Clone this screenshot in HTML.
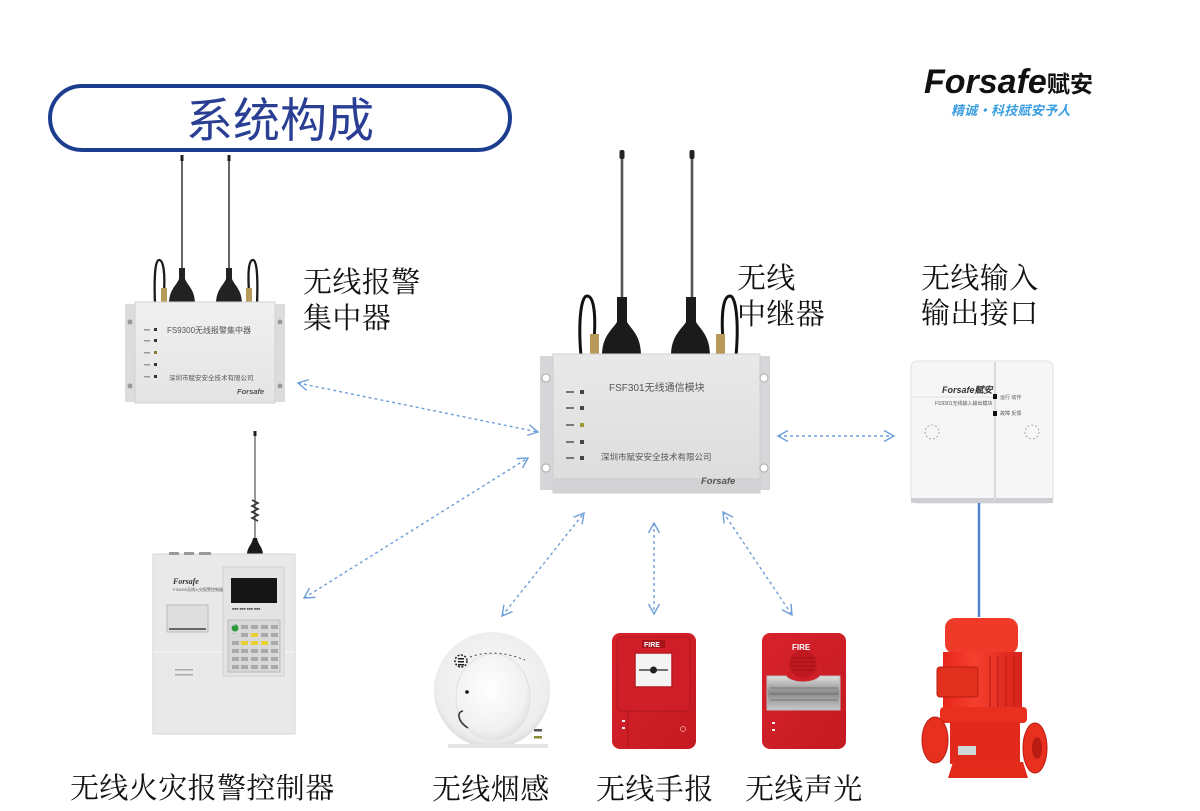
<!DOCTYPE html>
<html><head><meta charset="utf-8">
<style>
html,body{margin:0;padding:0;background:#fff;}
svg{display:block;}
.lbl{font-family:"Liberation Serif","Noto Serif CJK SC",serif;font-size:29px;fill:#111;letter-spacing:0.4px;}
.sm{font-family:"Liberation Sans","Noto Sans CJK SC",sans-serif;fill:#555;}
</style></head>
<body>
<svg width="1200" height="811" viewBox="0 0 1200 811" xmlns="http://www.w3.org/2000/svg">
<defs>
  <marker id="ah" markerUnits="userSpaceOnUse" markerWidth="14" markerHeight="14" refX="11" refY="6.5" orient="auto-start-reverse">
    <path d="M1,1 L11,6.5 L1,12" fill="none" stroke="#6f9fd8" stroke-width="1.4"/>
  </marker>
  <linearGradient id="gFace" x1="0" y1="0" x2="0" y2="1">
    <stop offset="0" stop-color="#f0f0f0"/><stop offset="1" stop-color="#e4e4e4"/>
  </linearGradient>
  <linearGradient id="gRep" x1="0" y1="0" x2="0" y2="1">
    <stop offset="0" stop-color="#e9e9ea"/><stop offset="1" stop-color="#dcdcde"/>
  </linearGradient>
  <radialGradient id="gDome" cx="0.45" cy="0.4" r="0.7">
    <stop offset="0" stop-color="#ffffff"/><stop offset="0.7" stop-color="#f1f1f1"/><stop offset="1" stop-color="#d6d6d6"/>
  </radialGradient>
  <radialGradient id="gBase" cx="0.5" cy="0.45" r="0.6">
    <stop offset="0" stop-color="#fafafa"/><stop offset="0.8" stop-color="#ededed"/><stop offset="1" stop-color="#d0d0d0"/>
  </radialGradient>
  <linearGradient id="gRed" x1="0" y1="0" x2="1" y2="1">
    <stop offset="0" stop-color="#d8222b"/><stop offset="1" stop-color="#c41a22"/>
  </linearGradient>
  <linearGradient id="gPump" x1="0" y1="0" x2="1" y2="0">
    <stop offset="0" stop-color="#e8261c"/><stop offset="0.4" stop-color="#f5402f"/><stop offset="1" stop-color="#d8221a"/>
  </linearGradient>
  <linearGradient id="gLens" x1="0" y1="0" x2="0" y2="1">
    <stop offset="0" stop-color="#e0e0e0"/><stop offset="0.5" stop-color="#8a8a8a"/><stop offset="1" stop-color="#c8c8c8"/>
  </linearGradient>
</defs>

<!-- Title pill -->
<rect x="50" y="86" width="460" height="64" rx="32" ry="32" fill="#fff" stroke="#1d3d8f" stroke-width="4"/>
<text x="280" y="137" text-anchor="middle" font-family="'Liberation Sans','Noto Sans CJK SC',sans-serif" font-size="47" fill="#2a3f94">系统构成</text>

<!-- Logo -->
<text x="924" y="93" font-family="'Liberation Sans',sans-serif" font-weight="bold" font-style="italic" font-size="34" fill="#111">Forsafe</text>
<text x="1047" y="92" font-family="'Noto Sans CJK SC',sans-serif" font-weight="bold" font-size="23" fill="#111">赋安</text>
<text x="951" y="115" font-family="'Noto Sans CJK SC',sans-serif" font-weight="bold" font-style="italic" font-size="13" fill="#3a9ee0" letter-spacing="0.3">精诚·科技赋安予人</text>

<!-- ============ Concentrator ============ -->
<line x1="182" y1="156" x2="182" y2="282" stroke="#666" stroke-width="2"/>
<line x1="229" y1="156" x2="229" y2="282" stroke="#666" stroke-width="2"/>
<rect x="180.5" y="155" width="3" height="6" fill="#222"/>
<rect x="227.5" y="155" width="3" height="6" fill="#222"/>
<path d="M155,304 C154,278 155,260 159,260 C164,260 165,276 164,292" fill="none" stroke="#1a1a1a" stroke-width="2.3"/>
<path d="M257,304 C258,278 257,260 253,260 C248,260 248,276 249,292" fill="none" stroke="#1a1a1a" stroke-width="2.3"/>
<rect x="161" y="288" width="6" height="14" fill="#b59a5a"/>
<rect x="246" y="288" width="6" height="14" fill="#b59a5a"/>
<path d="M169,304 C169,290 176,286 179,279 L179,268 L185,268 L185,279 C188,286 195,290 195,304 Z" fill="#222"/>
<path d="M216,304 C216,290 223,286 226,279 L226,268 L232,268 L232,279 C235,286 242,290 242,304 Z" fill="#222"/>
<rect x="125" y="304" width="160" height="98" fill="#dcdcdc"/>
<rect x="135" y="302" width="140" height="101" fill="url(#gFace)" stroke="#d0d0d0" stroke-width="1"/>
<circle cx="130" cy="322" r="2.5" fill="#999"/><circle cx="130" cy="386" r="2.5" fill="#999"/>
<circle cx="280" cy="322" r="2.5" fill="#999"/><circle cx="280" cy="386" r="2.5" fill="#999"/>
<text x="167" y="333" class="sm" font-size="8">FS9300无线报警集中器</text>
<g fill="#333"><rect x="154" y="328" width="3" height="3"/><rect x="154" y="339" width="3" height="3"/><rect x="154" y="351" width="3" height="3" fill="#8a7a30"/><rect x="154" y="363" width="3" height="3"/><rect x="154" y="375" width="3" height="3"/></g>
<g fill="#999"><rect x="144" y="329" width="6" height="1.5"/><rect x="144" y="340" width="6" height="1.5"/><rect x="144" y="352" width="6" height="1.5"/><rect x="144" y="364" width="6" height="1.5"/><rect x="144" y="376" width="6" height="1.5"/></g>
<text x="169" y="380" class="sm" font-size="6.5">深圳市赋安安全技术有限公司</text>
<text x="237" y="394" class="sm" font-size="7.5" font-style="italic" font-weight="bold" fill="#333">Forsafe</text>
<text x="303" y="292" class="lbl">无线报警</text>
<text x="303" y="328" class="lbl">集中器</text>

<!-- ============ Repeater ============ -->
<line x1="622" y1="152" x2="622" y2="300" stroke="#555" stroke-width="2.6"/>
<line x1="692" y1="152" x2="692" y2="300" stroke="#555" stroke-width="2.6"/>
<rect x="619.5" y="150" width="5" height="9" rx="2" fill="#222"/>
<rect x="689.5" y="150" width="5" height="9" rx="2" fill="#222"/>
<path d="M581,356 C578,322 581,296 587,296 C594,296 596,315 594,340" fill="none" stroke="#111" stroke-width="3"/>
<path d="M736,356 C739,322 736,296 730,296 C723,296 721,315 723,340" fill="none" stroke="#111" stroke-width="3"/>
<rect x="590" y="334" width="9" height="20" fill="#b8995a"/>
<rect x="716" y="334" width="9" height="20" fill="#b8995a"/>
<path d="M602,356 C602,336 612,330 617,322 L617,297 L627,297 L627,322 C632,330 641,336 641,356 Z" fill="#1b1b1b"/>
<path d="M671,356 C671,336 681,330 686,322 L686,297 L696,297 L696,322 C701,330 710,336 710,356 Z" fill="#1b1b1b"/>
<rect x="540" y="356" width="230" height="134" fill="#d6d6d8"/>
<rect x="553" y="354" width="207" height="139" fill="url(#gRep)" stroke="#cfcfd1" stroke-width="1"/>
<rect x="553" y="478" width="207" height="15" fill="#d2d2d4"/>
<circle cx="546" cy="378" r="4" fill="#fff" stroke="#aaa"/><circle cx="546" cy="468" r="4" fill="#fff" stroke="#aaa"/>
<circle cx="764" cy="378" r="4" fill="#fff" stroke="#aaa"/><circle cx="764" cy="468" r="4" fill="#fff" stroke="#aaa"/>
<text x="609" y="391" class="sm" font-size="10" fill="#444">FSF301无线通信模块</text>
<text x="601" y="460" class="sm" font-size="8.5" fill="#444">深圳市赋安安全技术有限公司</text>
<g fill="#444"><rect x="580" y="390" width="4" height="4"/><rect x="580" y="406" width="4" height="4"/><rect x="580" y="423" width="4" height="4" fill="#9a9a30"/><rect x="580" y="440" width="4" height="4"/><rect x="580" y="456" width="4" height="4"/></g>
<g fill="#777"><rect x="566" y="391" width="8" height="2"/><rect x="566" y="407" width="8" height="2"/><rect x="566" y="424" width="8" height="2"/><rect x="566" y="441" width="8" height="2"/><rect x="566" y="457" width="8" height="2"/></g>
<text x="701" y="484" class="sm" font-size="9.5" font-style="italic" font-weight="bold" fill="#333">Forsafe</text>
<text x="737" y="288" class="lbl">无线</text>
<text x="737" y="324" class="lbl">中继器</text>

<!-- ============ IO interface ============ -->
<rect x="911" y="361" width="142" height="142" rx="6" fill="#f6f6f6" stroke="#e0e0e0"/>
<rect x="911" y="498" width="142" height="5" fill="#cfcfd3"/>
<line x1="995" y1="362" x2="995" y2="500" stroke="#dcdcdc" stroke-width="2"/>
<line x1="912" y1="397" x2="994" y2="397" stroke="#e2e2e2"/>
<text x="942" y="393" font-family="'Liberation Sans',sans-serif" font-weight="bold" font-style="italic" font-size="9" fill="#333">Forsafe赋安</text>
<text x="935" y="405" class="sm" font-size="5">FS9301无线输入输出模块</text>
<rect x="993" y="394" width="4" height="5" fill="#111"/><rect x="993" y="411" width="4" height="5" fill="#111"/>
<text x="1000" y="399" class="sm" font-size="5">运行 动作</text>
<text x="1000" y="415" class="sm" font-size="5">故障 反馈</text>
<circle cx="932" cy="432" r="7" fill="none" stroke="#aaa" stroke-dasharray="2,2"/>
<circle cx="1032" cy="432" r="7" fill="none" stroke="#aaa" stroke-dasharray="2,2"/>
<text x="921" y="288" class="lbl">无线输入</text>
<text x="921" y="323" class="lbl">输出接口</text>
<line x1="979" y1="503" x2="979" y2="617" stroke="#4f86cf" stroke-width="2.5"/>

<!-- ============ Controller ============ -->
<line x1="255" y1="432" x2="255" y2="542" stroke="#777" stroke-width="1.5"/>
<rect x="253.5" y="431" width="3" height="5" fill="#222"/>
<path d="M252,500 L258,503 L252,506 L258,509 L252,512 L258,515 L252,518 L258,521" fill="none" stroke="#333" stroke-width="1.6"/>
<path d="M247,555 C247,547 252,545 253,538 L257,538 C258,545 263,547 263,555 Z" fill="#1a1a1a"/>
<rect x="153" y="554" width="142" height="180" fill="#e9e9e9" stroke="#d6d6d6"/>
<rect x="169" y="552" width="10" height="3" fill="#999"/><rect x="184" y="552" width="10" height="3" fill="#999"/><rect x="199" y="552" width="12" height="3" fill="#999"/>
<line x1="153" y1="652" x2="295" y2="652" stroke="#f6f6f6"/>
<rect x="223" y="567" width="61" height="109" fill="#e4e4e4" stroke="#cfcfcf"/>
<rect x="231" y="578" width="46" height="25" fill="#151515"/>
<text x="232" y="610" class="sm" font-size="3.5">■■■ ■■■ ■■■ ■■■</text>
<rect x="228" y="620" width="52" height="52" fill="#d8d8d8" stroke="#bbb"/>
<circle cx="235" cy="628" r="3.5" fill="#2c9a3c"/>
<g fill="#aaa">
<rect x="241" y="625" width="7" height="4"/><rect x="251" y="625" width="7" height="4"/><rect x="261" y="625" width="7" height="4"/><rect x="271" y="625" width="7" height="4"/>
<rect x="241" y="633" width="7" height="4"/><rect x="251" y="633" width="7" height="4" fill="#e8d030"/><rect x="261" y="633" width="7" height="4"/><rect x="271" y="633" width="7" height="4"/>
<rect x="232" y="641" width="7" height="4"/><rect x="241" y="641" width="7" height="4" fill="#e8d030"/><rect x="251" y="641" width="7" height="4" fill="#e8d030"/><rect x="261" y="641" width="7" height="4" fill="#e8d030"/><rect x="271" y="641" width="7" height="4"/>
<rect x="232" y="649" width="7" height="4"/><rect x="241" y="649" width="7" height="4"/><rect x="251" y="649" width="7" height="4"/><rect x="261" y="649" width="7" height="4"/><rect x="271" y="649" width="7" height="4"/>
<rect x="232" y="657" width="7" height="4"/><rect x="241" y="657" width="7" height="4"/><rect x="251" y="657" width="7" height="4"/><rect x="261" y="657" width="7" height="4"/><rect x="271" y="657" width="7" height="4"/>
<rect x="232" y="665" width="7" height="4"/><rect x="241" y="665" width="7" height="4"/><rect x="251" y="665" width="7" height="4"/><rect x="261" y="665" width="7" height="4"/><rect x="271" y="665" width="7" height="4"/>
</g>
<rect x="167" y="605" width="41" height="27" fill="#dedede" stroke="#bbb"/>
<rect x="169" y="628" width="37" height="2" fill="#666"/>
<text x="173" y="584" font-family="'Liberation Serif',serif" font-weight="bold" font-style="italic" font-size="8" fill="#333">Forsafe</text>
<text x="173" y="591" class="sm" font-size="4">FS4000无线火灾报警控制器</text>
<g fill="#aaa"><rect x="175" y="669" width="18" height="1.5"/><rect x="175" y="674" width="18" height="1.5"/></g>
<g fill="#bbb"><rect x="232" y="625" width="3" height="1"/><rect x="232" y="633" width="3" height="1"/></g>
<text x="70" y="798" class="lbl">无线火灾报警控制器</text>

<!-- ============ Smoke detector ============ -->
<clipPath id="cs"><rect x="420" y="620" width="150" height="128"/></clipPath>
<g clip-path="url(#cs)">
<circle cx="492" cy="690" r="58" fill="url(#gBase)"/>
</g>
<rect x="448" y="744" width="100" height="4" fill="#e4e4e4"/>
<ellipse cx="493" cy="697" rx="37" ry="43" fill="url(#gDome)" stroke="#e0e0e0"/>
<circle cx="461" cy="661" r="6" fill="none" stroke="#222" stroke-width="1.5" stroke-dasharray="2,1.5"/>
<rect x="458" y="658" width="6" height="1.5" fill="#222"/><rect x="458" y="661" width="6" height="1.5" fill="#222"/><rect x="458" y="664" width="6" height="1.5" fill="#222"/>
<path d="M470,657 Q495,648 525,660" fill="none" stroke="#444" stroke-width="1" stroke-dasharray="2,3"/>
<circle cx="467" cy="692" r="1.8" fill="#111"/>
<path d="M468,728 C458,722 456,712 463,711" fill="none" stroke="#333" stroke-width="1.5"/>
<rect x="534" y="729" width="8" height="2.5" fill="#555"/><rect x="534" y="736" width="8" height="2.5" fill="#8a8a30"/>
<text x="432" y="799" class="lbl">无线烟感</text>

<!-- ============ Manual call point ============ -->
<rect x="612" y="633" width="84" height="116" rx="8" fill="url(#gRed)"/>
<rect x="617" y="637" width="73" height="74" rx="4" fill="#cf1e28" stroke="#b0161e"/>
<rect x="642" y="640" width="23" height="8" fill="#a5141a"/>
<text x="644" y="647" font-family="'Liberation Sans',sans-serif" font-weight="bold" font-size="7" fill="#fff">FIRE</text>
<rect x="635" y="653" width="37" height="34" fill="#f4f4f4" stroke="#b81a22" stroke-width="1.5"/>
<line x1="639" y1="670" x2="668" y2="670" stroke="#222" stroke-width="1.2"/>
<circle cx="653.5" cy="670" r="3.5" fill="#222"/>
<line x1="628" y1="711" x2="628" y2="746" stroke="#a9151c"/>
<rect x="622" y="720" width="3" height="2" fill="#eee"/><rect x="622" y="727" width="3" height="2" fill="#eee"/>
<circle cx="683" cy="729" r="2.5" fill="none" stroke="#ee8888"/>
<text x="596" y="799" class="lbl">无线手报</text>

<!-- ============ Sounder ============ -->
<rect x="762" y="633" width="84" height="116" rx="8" fill="url(#gRed)"/>
<text x="792" y="650" font-family="'Liberation Sans',sans-serif" font-weight="bold" font-size="8" fill="#fff">FIRE</text>
<circle cx="803" cy="664" r="14" fill="#c01820"/>
<g stroke="#9e1218" stroke-width="1"><line x1="791" y1="658" x2="815" y2="658"/><line x1="790" y1="662" x2="816" y2="662"/><line x1="790" y1="666" x2="816" y2="666"/><line x1="791" y1="670" x2="815" y2="670"/></g>
<path d="M767,676 L786,676 C792,684 814,684 820,676 L840,676 L840,710 L767,710 Z" fill="url(#gLens)" stroke="#bbb"/>
<g stroke="#666" stroke-width="0.8"><line x1="770" y1="688" x2="838" y2="688"/><line x1="770" y1="694" x2="838" y2="694"/><line x1="770" y1="700" x2="838" y2="700"/></g>
<rect x="772" y="722" width="3" height="2" fill="#eee"/><rect x="772" y="729" width="3" height="2" fill="#eee"/>
<text x="745" y="799" class="lbl">无线声光</text>

<!-- ============ Pump ============ -->
<rect x="945" y="618" width="73" height="36" rx="10" fill="#ef3a2a"/>
<rect x="943" y="652" width="79" height="58" fill="url(#gPump)"/>
<g stroke="#c21a14" stroke-width="1.2"><line x1="990" y1="656" x2="990" y2="708"/><line x1="998" y1="656" x2="998" y2="708"/><line x1="1006" y1="656" x2="1006" y2="708"/><line x1="1014" y1="656" x2="1014" y2="708"/></g>
<rect x="937" y="667" width="41" height="30" rx="3" fill="#e2301f" stroke="#b81c12"/>
<rect x="940" y="707" width="87" height="16" rx="4" fill="#e9301f"/>
<rect x="950" y="722" width="70" height="42" fill="#e22a1c"/>
<ellipse cx="935" cy="740" rx="13" ry="23" fill="#e8301f" stroke="#b81c12"/>
<ellipse cx="1035" cy="748" rx="12" ry="25" fill="#e8301f" stroke="#b81c12"/>
<ellipse cx="1037" cy="748" rx="5" ry="11" fill="#b81c12"/>
<path d="M953,762 L1023,762 L1028,778 L948,778 Z" fill="#e32b1c"/>
<rect x="958" y="746" width="18" height="9" fill="#cfd8d8"/>

<!-- ============ Dashed arrows ============ -->
<g fill="none" stroke="#6f9fd8" stroke-width="1.4" stroke-dasharray="3,3">
<line x1="298" y1="383" x2="538" y2="432" marker-start="url(#ah)" marker-end="url(#ah)"/>
<line x1="304" y1="598" x2="528" y2="458" marker-start="url(#ah)" marker-end="url(#ah)"/>
<line x1="502" y1="616" x2="584" y2="513" marker-start="url(#ah)" marker-end="url(#ah)"/>
<line x1="654" y1="523" x2="654" y2="614" marker-start="url(#ah)" marker-end="url(#ah)"/>
<line x1="723" y1="512" x2="792" y2="615" marker-start="url(#ah)" marker-end="url(#ah)"/>
<line x1="778" y1="436" x2="894" y2="436" marker-start="url(#ah)" marker-end="url(#ah)"/>
</g>
</svg>
</body></html>
